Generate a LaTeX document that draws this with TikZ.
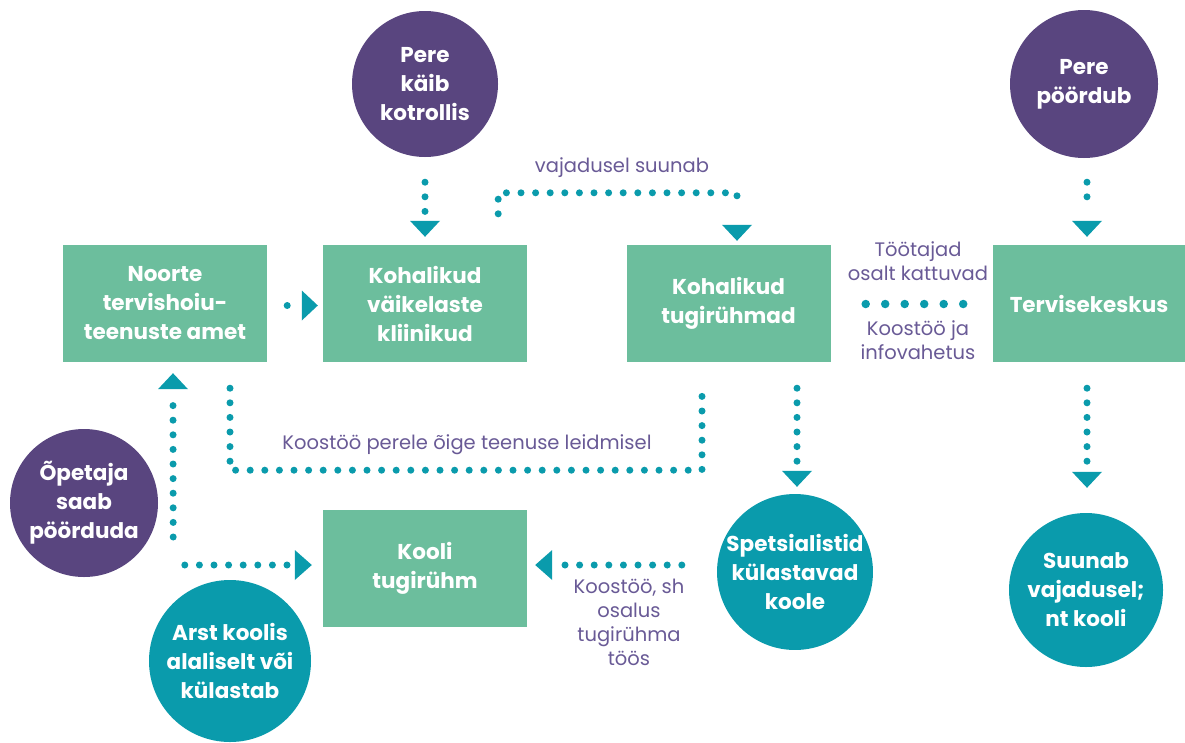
\documentclass[tikz,border=0pt]{standalone}
\usepackage{fontspec}
\setmainfont{Poppins}
\usetikzlibrary{calc}
\definecolor{boxg}{RGB}{108,190,157}
\definecolor{purp}{RGB}{89,69,127}
\definecolor{tealc}{RGB}{10,155,172}
\definecolor{labp}{RGB}{105,90,150}
\begin{document}
\begin{tikzpicture}[x=1pt,y=-1pt,
  greenbox/.style={fill=boxg, minimum width=204pt, minimum height=117pt, inner sep=0pt, text=white, font=\bfseries\fontsize{21.5}{29}\selectfont, align=center},
  pcirc/.style={circle, fill=purp, inner sep=0pt, text=white, font=\bfseries\fontsize{21.5}{29}\selectfont, align=center},
  tcirc/.style={circle, fill=tealc, inner sep=0pt, text=white, font=\bfseries\fontsize{21.5}{29}\selectfont, align=center},
  dotline/.style={draw=tealc, line width=7pt, line cap=round, dash pattern=on 0pt off 14.6pt},
  bigdot/.style={draw=tealc, line width=8.5pt, line cap=round, dash pattern=on 0pt off 19.5pt},
  head/.style={fill=tealc},
  lab/.style={text=labp, font=\fontsize{19.5}{24}\selectfont, align=center, inner sep=0pt}]

\useasboundingbox (0,0) rectangle (1185,742);
\fill[white] (0,0) rectangle (1185,742);

% boxes
\node[greenbox] (nA) at (165,303.5) {Noorte\\tervishoiu-\\teenuste amet};
\node[greenbox] (nB) at (425,303.5) {Kohalikud\\väikelaste\\kliinikud};
\node[greenbox] (nC) at (728.5,303.5) {Kohalikud\\tugirühmad};
\node[greenbox, minimum width=192pt] (nD) at (1089,303.5) {Tervisekeskus};
\node[greenbox] (nE) at (425,568.5) {Kooli\\tugirühm};

% circles
\node[pcirc, minimum size=146pt] (pK) at (425,84) {Pere\\käib\\kotrollis};
\node[pcirc, minimum size=148pt] (pP) at (1084,84) {Pere\\pöördub};
\node[pcirc, minimum size=148pt] (pO) at (84,503) {Õpetaja\\saab\\pöörduda};
\node[tcirc, minimum size=154pt] (tS) at (795,572) {Spetsialistid\\külastavad\\koole};
\node[tcirc, minimum size=154pt] (tV) at (1086,590) {Suunab\\vajadusel;\\nt kooli};
\node[tcirc, minimum size=162pt] (tA) at (230,661) {Arst koolis\\alaliselt või\\külastab};

% 1 pere kaib -> kliinikud
\draw[dotline] ($(pK.south)+(0,25)$) -- ($(nB.north)+(0,-33)$);
\fill[head] ($(nB.north)+(0,-8)$) -- ++(-15,-16) -- ++(30,0) -- cycle;

% 2 amet -> kliinikud
\draw[dotline] ($(nA.east)+(20,2)$) -- ++(2,0);
\fill[head] ($(nB.west)+(-5,2)$) -- ++(-16,-15) -- ++(0,30) -- cycle;

% 3 kliinikud -> tugiruhmad
\draw[dotline] ($(nB.north east)+(-29,-31)$) -- ($(nB.north east)+(-29,-52)$) -| ($(nC.north)+(8.5,-37)$);
\fill[head] ($(nC.north)+(8.5,-4)$) -- ++(-15,-16) -- ++(30,0) -- cycle;

% 4 pere poordub -> tervisekeskus
\draw[dotline] ($(pP.south)+(3,24)$) -- ($(nD.north)+(-2,-34)$);
\fill[head] ($(nD.north)+(-2,-8)$) -- ++(-15,-16) -- ++(30,0) -- cycle;

% 5 tugiruhmad -- tervisekeskus
\draw[bigdot] ($(nC.east)+(35,0.5)$) -- ($(nD.west)+(-29,0.5)$);

% 6 amet -- tugiruhmad
\draw[dotline] ($(nA.south)+(65,26)$) -- ($(nA.south)+(65,108)$) -- ($(nC.south)+(-26.5,108)$) -- ($(nC.south)+(-26.5,33)$);

% 7 tugiruhmad -> spetsialistid
\draw[dotline] ($(nC.south)+(68.5,26)$) -- ($(nC.south)+(68.5,102)$);
\fill[head] ($(tS.north)+(2,-7)$) -- ++(-15,-16) -- ++(30,0) -- cycle;

% 8 tervisekeskus -> suunab
\draw[dotline] ($(nD.south)+(-2,26)$) -- ($(nD.south)+(-2,102)$);
\fill[head] ($(tV.north)+(1,-25)$) -- ++(-15,-16) -- ++(30,0) -- cycle;

% 9 opetaja -> amet
\draw[dotline] ($(pO.east)+(15,34)$) -- ($(nA.south)+(8,38)$);
\fill[head] ($(nA.south)+(8,11)$) -- ++(-15,16) -- ++(30,0) -- cycle;

% 10 arst -> kooli tugiruhm
\draw[dotline] ($(nE.west)+(-138,-3.5)$) -- ($(nE.west)+(-33,-3.5)$);
\fill[head] ($(nE.west)+(-11,-3.5)$) -- ++(-17,-15) -- ++(0,30) -- cycle;

% 11 spetsialistid -> kooli tugiruhm
\draw[dotline] ($(tS.west)+(-35,-7)$) -- ($(nE.east)+(36,-3.5)$);
\fill[head] ($(nE.east)+(8,-3.5)$) -- ++(17,-15) -- ++(0,30) -- cycle;

% labels
\node[lab] (l1) at (622,168) {vajadusel suunab};
\node[lab] (l2) at (918,261) {Töötajad\\osalt kattuvad};
\node[lab] (l3) at (918,340) {Koostöö ja\\infovahetus};
\node[lab] (l4) at (467,445) {Koostöö perele õige teenuse leidmisel};
\node[lab] (l5) at (629,622) {Koostöö, sh\\osalus\\tugirühma\\töös};
\end{tikzpicture}
\end{document}
